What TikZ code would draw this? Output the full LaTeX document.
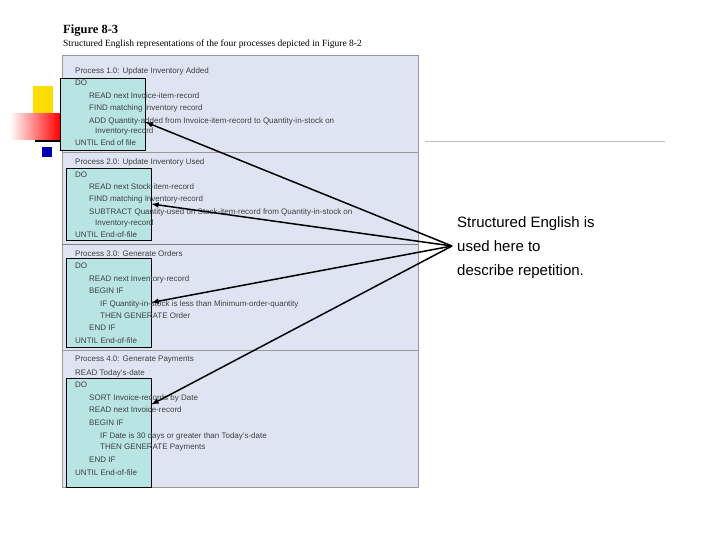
\documentclass[tikz,border=0pt]{standalone}
\usepackage{fontspec}
\setmainfont{Liberation Sans}
\newfontfamily\capfont{Liberation Serif}
\definecolor{panelblue}{RGB}{222,228,242}
\definecolor{loopteal}{RGB}{184,228,228}
\begin{document}
\begin{tikzpicture}[x=1pt,y=-1pt,
    codeline/.style={anchor=west, inner sep=0pt, font=\fontsize{8}{8}\selectfont, text=black!75},
    loopbox/.style={draw=black, fill=loopteal, line width=0.8pt},
    pointer/.style={-latex, line width=1.5pt}]

    \useasboundingbox (0,0) rectangle (720,540);

    % decoration
    \fill[yellow!80!orange] (33,86) rectangle (53,116);
    \shade[left color=white, right color=red] (10,114) rectangle (60,140);
    \draw[line width=2pt] (35,141) -- (75,141);
    \draw[black!25] (425,141) -- (665,141);
    \fill[blue!70!black] (42,147) rectangle (52,157);

    % figure
    \node[anchor=west, inner sep=0pt, font=\capfont\bfseries\fontsize{12.5}{13}\selectfont] (title) at (63,31) {Figure 8-3};
    \node[anchor=west, inner sep=0pt, font=\capfont\fontsize{9.5}{10}\selectfont] (caption) at (63,44) {Structured English representations of the four processes depicted in Figure 8-2};
    \draw[black!40, fill=panelblue] (62,55) rectangle (418,487);
    \draw[black!40] (62,152) -- (418,152);
    \draw[black!50, line width=0.8pt] (62,244) -- (418,244);
    \draw[black!40] (62,350) -- (418,350);

    \node[loopbox] (loopa) at (102.5,114) [minimum width=85pt, minimum height=72pt] {};
    \node[loopbox] (loopb) at (108.5,204) [minimum width=85pt, minimum height=72pt] {};
    \node[loopbox] (loopc) at (108.5,302.5) [minimum width=85pt, minimum height=89pt] {};
    \node[loopbox] (loopd) at (108.5,432.5) [minimum width=85pt, minimum height=109pt] {};

    % process 1.0
    \node[codeline] at (75,71) {Process 1.0: Update Inventory Added};
    \node[codeline] at (75,83) {DO};
    \node[codeline] at (89,96) {READ next Invoice-item-record};
    \node[codeline] at (89,108) {FIND matching Inventory record};
    \node[codeline] at (89,121) {ADD Quantity-added from Invoice-item-record to Quantity-in-stock on};
    \node[codeline] at (95,131) {Inventory-record};
    \node[codeline] at (75,143) {UNTIL End of file};

    % process 2.0
    \node[codeline] at (75,162) {Process 2.0: Update Inventory Used};
    \node[codeline] at (75,175) {DO};
    \node[codeline] at (89,187) {READ next Stock-item-record};
    \node[codeline] at (89,199) {FIND matching Inventory-record};
    \node[codeline] at (89,212) {SUBTRACT Quantity-used on Stock-item-record from Quantity-in-stock on};
    \node[codeline] at (95,223) {Inventory-record};
    \node[codeline] at (75,235) {UNTIL End-of-file};

    % process 3.0
    \node[codeline] at (75,254) {Process 3.0: Generate Orders};
    \node[codeline] at (75,266) {DO};
    \node[codeline] at (89,279) {READ next Inventory-record};
    \node[codeline] at (89,291) {BEGIN IF};
    \node[codeline] at (100,304) {IF Quantity-in-stock is less than Minimum-order-quantity};
    \node[codeline] at (100,316) {THEN GENERATE Order};
    \node[codeline] at (89,328) {END IF};
    \node[codeline] at (75,341) {UNTIL End-of-file};

    % process 4.0
    \node[codeline] at (75,360) {Process 4.0: Generate Payments};
    \node[codeline] at (75,373) {READ Today's-date};
    \node[codeline] at (75,385) {DO};
    \node[codeline] at (89,398) {SORT Invoice-records by Date};
    \node[codeline] at (89,410) {READ next Invoice-record};
    \node[codeline] at (89,423) {BEGIN IF};
    \node[codeline] at (100,436) {IF Date is 30 days or greater than Today's-date};
    \node[codeline] at (100,448) {THEN GENERATE Payments};
    \node[codeline] at (89,460) {END IF};
    \node[codeline] at (75,473) {UNTIL End-of-file};

    % note and arrows
    \node[anchor=north west, inner sep=0pt, align=left, font=\fontsize{15}{24}\selectfont] (note) at (457,216) {Structured English is\\used here to\\describe repetition.};
    \coordinate (hub) at (452,246);
    \draw[pointer] (hub) -- ([yshift=-8pt]loopa.east);
    \draw[pointer] (hub) -- (loopb.east);
    \draw[pointer] (hub) -- (loopc.east);
    \draw[pointer] (hub) -- ([yshift=28pt]loopd.east);

\end{tikzpicture}
\end{document}
